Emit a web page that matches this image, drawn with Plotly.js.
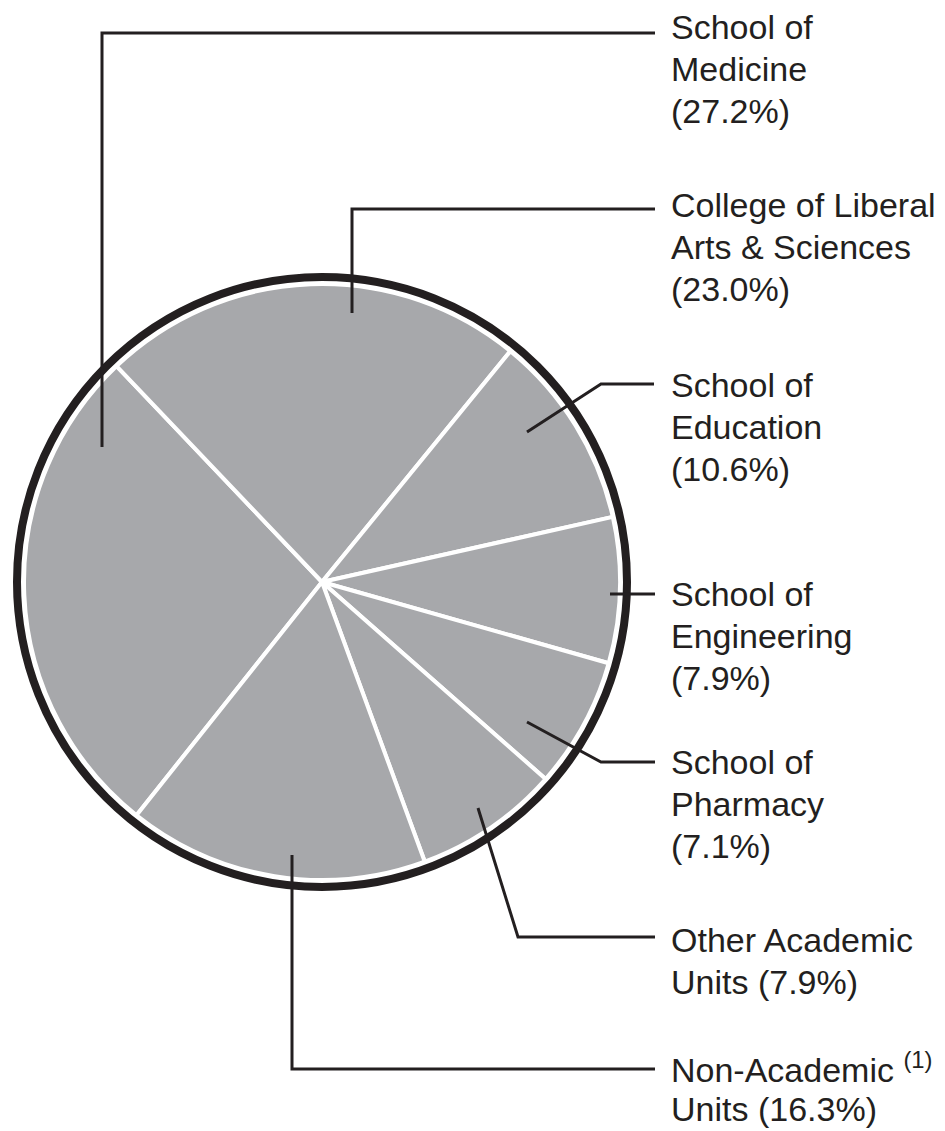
<!DOCTYPE html>
<html>
<head>
<meta charset="utf-8">
<script src="https://cdn.plot.ly/plotly-3.0.1.min.js"></script>
<style>
  html, body { margin: 0; padding: 0; background: #ffffff; }
  #chart { width: 945px; height: 1131px; }
</style>
</head>
<body>
<div id="chart"></div>
<script>
// ---- Data ----
const categories = [
  'School of Medicine',
  'College of Liberal Arts & Sciences',
  'School of Education',
  'School of Engineering',
  'School of Pharmacy',
  'Other Academic Units',
  'Non-Academic Units'
];
const shares = [27.2, 23.0, 10.6, 7.9, 7.1, 7.9, 16.3];
// label text templates ({pct} is filled from shares)
const labelTexts = [
  'School of<br>Medicine<br>({pct})',
  'College of Liberal<br>Arts &amp; Sciences<br>({pct})',
  'School of<br>Education<br>({pct})',
  'School of<br>Engineering<br>({pct})',
  'School of<br>Pharmacy<br>({pct})',
  'Other Academic<br>Units ({pct})',
  'Non-Academic <sup>(1)</sup><br>Units ({pct})'
];

// ---- Layout helpers (pixel -> paper) ----
const W = 945, H = 1131;
const px = x => x / W;
const py = y => 1 - y / H;

const CX = 322, CY = 582, R = 298;     // pie centre / radius in px
const RING_R = 305, RING_W = 8;        // outer black ring
const INK = '#231f20';
const FONT = 'Liberation Sans, Arial, Helvetica, sans-serif';
const FS = 34;
const LINE_H = 42;

// leader line routes (px) for each label
const leaderRoutes = [
  [[102, 447], [102, 33], [655, 33]],
  [[352, 313], [352, 209], [655, 209]],
  [[527, 432], [601, 384], [654, 384]],
  [[610, 594], [655, 594]],
  [[527, 722], [601, 762], [655, 762]],
  [[478, 808], [518, 937], [655, 937]],
  [[292, 855], [292, 1069], [655, 1069]]
];
// first-line vertical centres of label text (px)
const labelTop = [27, 205, 385, 594, 762, 940, 1067];
const LABEL_X = 669;

// ---- Trace ----
const trace = {
  type: 'pie',
  labels: categories,
  values: shares,
  sort: false,
  direction: 'clockwise',
  rotation: -141.5,
  textinfo: 'none',
  hoverinfo: 'label+value',
  showlegend: false,
  marker: {
    colors: categories.map(() => '#a7a8ab'),
    line: { color: '#ffffff', width: 4 }
  },
  domain: {
    x: [px(CX - R), px(CX + R)],
    y: [py(CY + R), py(CY - R)]
  }
};

// ---- Shapes ----
const shapes = [{
  type: 'circle', xref: 'paper', yref: 'paper',
  x0: px(CX - RING_R), x1: px(CX + RING_R),
  y0: py(CY + RING_R), y1: py(CY - RING_R),
  line: { color: INK, width: RING_W }
}];
leaderRoutes.forEach(route => {
  const path = route.map((p, i) => (i ? 'L' : 'M') + px(p[0]) + ',' + py(p[1])).join(' ');
  shapes.push({
    type: 'path', xref: 'paper', yref: 'paper', path: path,
    line: { color: INK, width: 3 }
  });
});

// ---- Annotations (one per text line) ----
const annotations = [];
labelTexts.forEach((tpl, i) => {
  const txt = tpl.replace('{pct}', shares[i].toFixed(1) + '%');
  txt.split('<br>').forEach((line, j) => {
    annotations.push({
      xref: 'paper', yref: 'paper',
      x: px(LABEL_X), y: py(labelTop[i] + j * LINE_H),
      xanchor: 'left', yanchor: 'middle',
      showarrow: false, align: 'left',
      text: line,
      font: { family: FONT, size: FS, color: INK }
    });
  });
});

const layout = {
  width: W, height: H,
  margin: { l: 0, r: 0, t: 0, b: 0, pad: 0 },
  paper_bgcolor: '#ffffff',
  plot_bgcolor: '#ffffff',
  showlegend: false,
  shapes: shapes,
  annotations: annotations
};

Plotly.newPlot('chart', [trace], layout, { displayModeBar: false, staticPlot: true });
</script>
</body>
</html>
